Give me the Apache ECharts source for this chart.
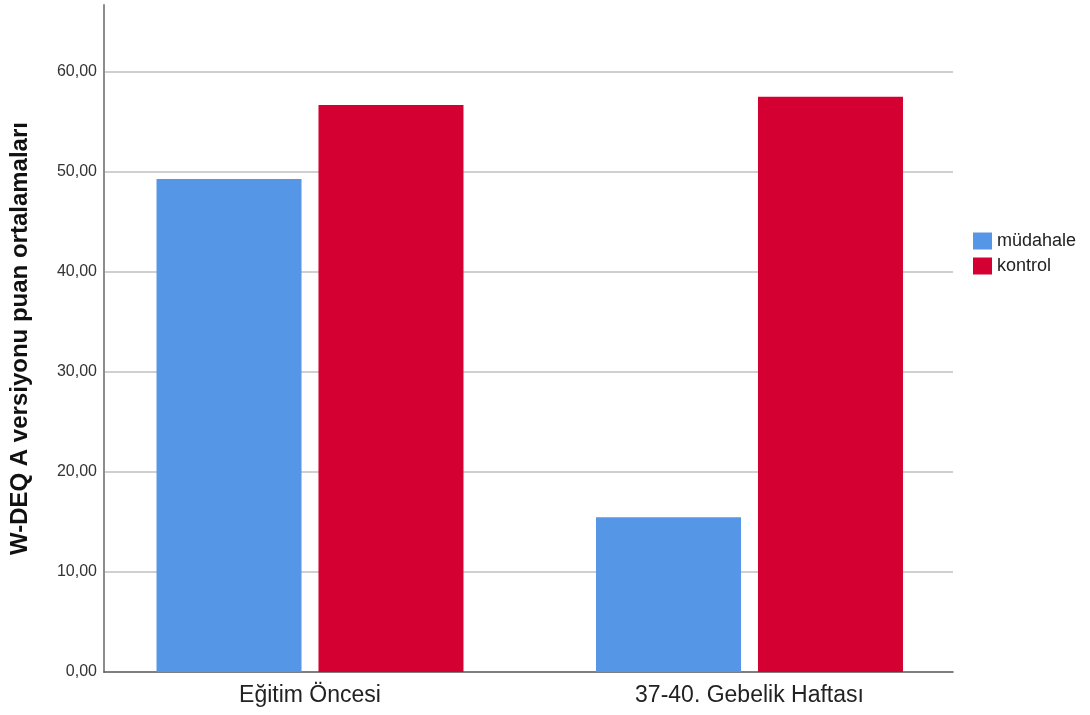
<!DOCTYPE html>
<html>
<head>
<meta charset="utf-8">
<script src="https://cdn.jsdelivr.net/npm/echarts@6/dist/echarts.min.js"></script>
<style>
html,body{margin:0;padding:0;background:#fff;}
#chart{width:1090px;height:715px;}
</style>
</head>
<body>
<div id="chart"></div>
<script>
const categories = ['Eğitim Öncesi', '37-40. Gebelik Haftası'];
const seriesNames = ['müdahale', 'kontrol'];
const mudahaleValues = [49.3, 15.47];
const kontrolValues = [56.7, 57.53];
const yTicks = [0, 10, 20, 30, 40, 50, 60];
const yAxisTitle = 'W-DEQ A versiyonu puan ortalamaları';

const FONT = '"Liberation Sans", Arial, sans-serif';
const yMax = 66.7;

const chart = echarts.init(document.getElementById('chart'), null, {renderer: 'canvas'});
chart.setOption({
  animation: false,
  backgroundColor: '#ffffff',
  textStyle: {fontFamily: FONT},
  grid: [
    {left: 104, right: 137, top: 5, bottom: 43},
    {left: 90.25, right: 120.75, top: 5, bottom: 43}
  ],
  legend: {
    orient: 'vertical',
    left: 973,
    top: 232,
    padding: 0,
    itemWidth: 19,
    itemHeight: 17,
    itemGap: 7,
    icon: 'rect',
    data: seriesNames,
    textStyle: {fontFamily: FONT, fontSize: 18, color: '#222'}
  },
  xAxis: [
    {
      type: 'category', gridIndex: 0, data: categories,
      axisLine: {show: true, lineStyle: {color: '#555', width: 1.5}},
      axisTick: {show: false}, axisLabel: {show: false}, splitLine: {show: false}
    },
    {
      type: 'category', gridIndex: 1, data: categories,
      axisLine: {show: false}, axisTick: {show: false},
      axisLabel: {fontFamily: FONT, fontSize: 23, color: '#222', margin: 12},
      splitLine: {show: false}
    }
  ],
  yAxis: [
    {
      type: 'value', gridIndex: 0, min: 0, max: yMax, interval: 10,
      name: yAxisTitle, nameLocation: 'middle', nameGap: 72,
      nameTextStyle: {fontFamily: FONT, fontSize: 24, fontWeight: 'bold', color: '#111'},
      axisLine: {show: true, lineStyle: {color: '#8c8c8c', width: 2}},
      axisTick: {show: false},
      axisLabel: {
        fontFamily: FONT, fontSize: 16, color: '#333', margin: 7,
        showMaxLabel: false,
        formatter: v => (yTicks.indexOf(v) >= 0 ? v.toFixed(2).replace('.', ',') : '')
      },
      splitLine: {show: true, showMinLine: false, showMaxLine: false, lineStyle: {color: '#cfcfcf', width: 2}}
    },
    {
      type: 'value', gridIndex: 1, min: 0, max: yMax, interval: 10, show: false,
      splitLine: {show: false}
    }
  ],
  series: [
    {
      name: seriesNames[0], type: 'bar', xAxisIndex: 1, yAxisIndex: 1,
      data: mudahaleValues, barWidth: 145, barGap: '11.7%',
      itemStyle: {color: '#5596e6'}
    },
    {
      name: seriesNames[1], type: 'bar', xAxisIndex: 1, yAxisIndex: 1,
      data: kontrolValues, barWidth: 145, barGap: '11.7%',
      itemStyle: {color: '#d50032'}
    }
  ]
});
</script>
</body>
</html>
